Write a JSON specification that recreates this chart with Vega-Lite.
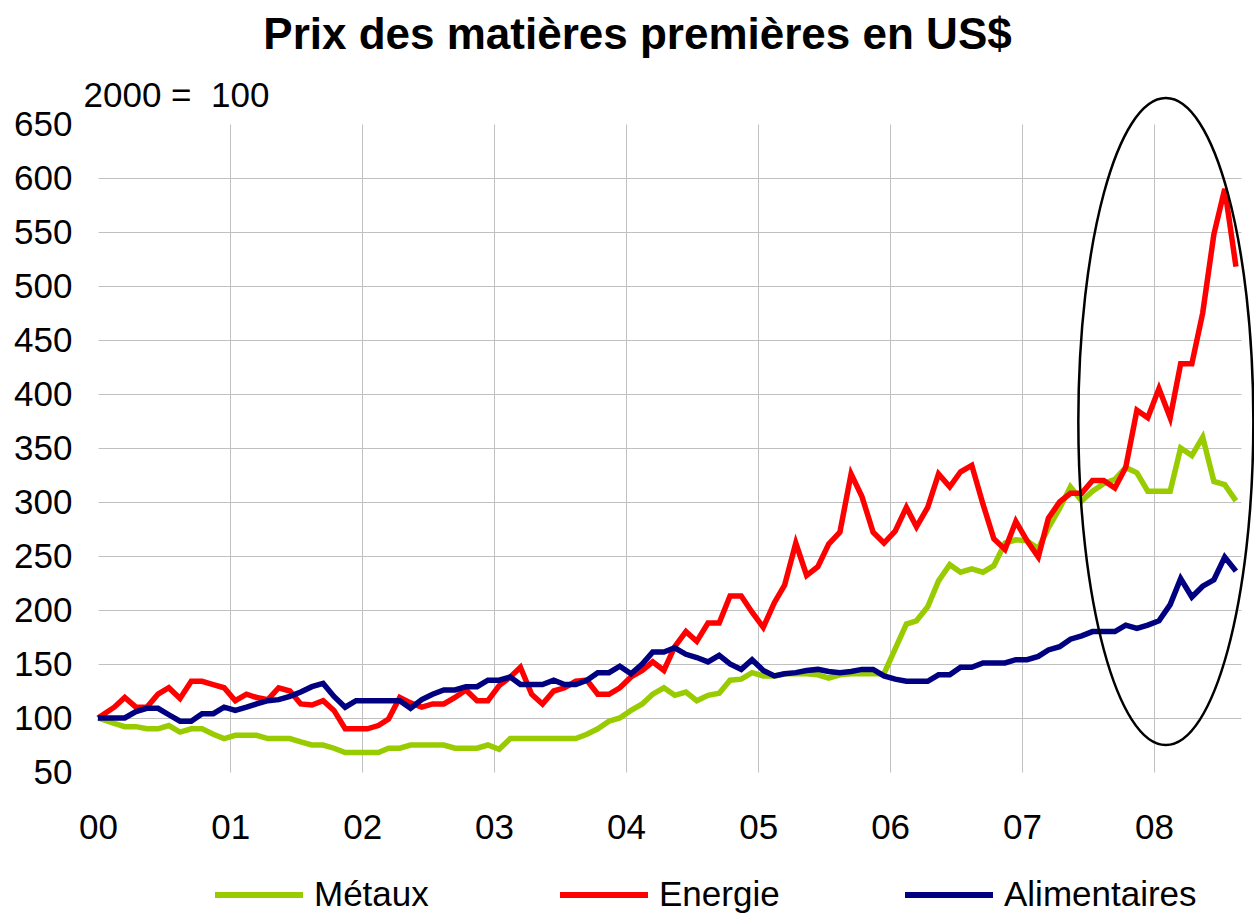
{
  "$schema": "https://vega.github.io/schema/vega-lite/v6.json",
  "width": 1143,
  "height": 648,
  "autosize": {"type": "none"},
  "padding": {"left": 98, "top": 124, "right": 13, "bottom": 143},
  "background": "white",
  "config": {"view": {"stroke": null}, "font": "Liberation Sans"},
  "title": {
    "text": "Prix des matières premières en US$",
    "fontSize": 44,
    "fontWeight": "bold",
    "font": "Liberation Sans",
    "color": "#000000",
    "anchor": "middle",
    "frame": "group",
    "dx": -32,
    "offset": 20
  },
  "layer": [
    {
      "data": {
        "values": [
          {"d": "2000-01-01", "Métaux": 100, "Energie": 100, "Alimentaires": 100},
          {"d": "2000-02-15", "Métaux": 95, "Energie": 110, "Alimentaires": 100},
          {"d": "2000-03-15", "Métaux": 92, "Energie": 119, "Alimentaires": 100},
          {"d": "2000-04-15", "Métaux": 92, "Energie": 110, "Alimentaires": 106},
          {"d": "2000-05-15", "Métaux": 90, "Energie": 110, "Alimentaires": 109},
          {"d": "2000-06-15", "Métaux": 90, "Energie": 122, "Alimentaires": 109},
          {"d": "2000-07-15", "Métaux": 93, "Energie": 128, "Alimentaires": 103},
          {"d": "2000-08-15", "Métaux": 87, "Energie": 118, "Alimentaires": 97},
          {"d": "2000-09-15", "Métaux": 90, "Energie": 134, "Alimentaires": 97},
          {"d": "2000-10-15", "Métaux": 90, "Energie": 134, "Alimentaires": 104},
          {"d": "2000-11-15", "Métaux": 85, "Energie": 131, "Alimentaires": 104},
          {"d": "2000-12-15", "Métaux": 81, "Energie": 128, "Alimentaires": 110},
          {"d": "2001-01-15", "Métaux": 84, "Energie": 116, "Alimentaires": 107},
          {"d": "2001-02-15", "Métaux": 84, "Energie": 122, "Alimentaires": 110},
          {"d": "2001-03-15", "Métaux": 84, "Energie": 119, "Alimentaires": 113},
          {"d": "2001-04-15", "Métaux": 81, "Energie": 117, "Alimentaires": 116},
          {"d": "2001-05-15", "Métaux": 81, "Energie": 128, "Alimentaires": 117},
          {"d": "2001-06-15", "Métaux": 81, "Energie": 125, "Alimentaires": 120},
          {"d": "2001-07-15", "Métaux": 78, "Energie": 113, "Alimentaires": 124},
          {"d": "2001-08-15", "Métaux": 75, "Energie": 112, "Alimentaires": 129},
          {"d": "2001-09-15", "Métaux": 75, "Energie": 116, "Alimentaires": 132},
          {"d": "2001-10-15", "Métaux": 72, "Energie": 107, "Alimentaires": 120},
          {"d": "2001-11-15", "Métaux": 68, "Energie": 90, "Alimentaires": 110},
          {"d": "2001-12-15", "Métaux": 68, "Energie": 90, "Alimentaires": 116},
          {"d": "2002-01-15", "Métaux": 68, "Energie": 90, "Alimentaires": 116},
          {"d": "2002-02-15", "Métaux": 68, "Energie": 93, "Alimentaires": 116},
          {"d": "2002-03-15", "Métaux": 72, "Energie": 99, "Alimentaires": 116},
          {"d": "2002-04-15", "Métaux": 72, "Energie": 119, "Alimentaires": 116},
          {"d": "2002-05-15", "Métaux": 75, "Energie": 114, "Alimentaires": 109},
          {"d": "2002-06-15", "Métaux": 75, "Energie": 110, "Alimentaires": 117},
          {"d": "2002-07-15", "Métaux": 75, "Energie": 113, "Alimentaires": 122},
          {"d": "2002-08-15", "Métaux": 75, "Energie": 113, "Alimentaires": 126},
          {"d": "2002-09-15", "Métaux": 72, "Energie": 119, "Alimentaires": 126},
          {"d": "2002-10-15", "Métaux": 72, "Energie": 126, "Alimentaires": 129},
          {"d": "2002-11-15", "Métaux": 72, "Energie": 116, "Alimentaires": 129},
          {"d": "2002-12-15", "Métaux": 75, "Energie": 116, "Alimentaires": 135},
          {"d": "2003-01-15", "Métaux": 71, "Energie": 130, "Alimentaires": 135},
          {"d": "2003-02-15", "Métaux": 81, "Energie": 138, "Alimentaires": 138},
          {"d": "2003-03-15", "Métaux": 81, "Energie": 147, "Alimentaires": 131},
          {"d": "2003-04-15", "Métaux": 81, "Energie": 122, "Alimentaires": 131},
          {"d": "2003-05-15", "Métaux": 81, "Energie": 113, "Alimentaires": 131},
          {"d": "2003-06-15", "Métaux": 81, "Energie": 125, "Alimentaires": 135},
          {"d": "2003-07-15", "Métaux": 81, "Energie": 128, "Alimentaires": 131},
          {"d": "2003-08-15", "Métaux": 81, "Energie": 134, "Alimentaires": 131},
          {"d": "2003-09-15", "Métaux": 85, "Energie": 135, "Alimentaires": 135},
          {"d": "2003-10-15", "Métaux": 90, "Energie": 122, "Alimentaires": 142},
          {"d": "2003-11-15", "Métaux": 97, "Energie": 122, "Alimentaires": 142},
          {"d": "2003-12-15", "Métaux": 100, "Energie": 128, "Alimentaires": 148},
          {"d": "2004-01-15", "Métaux": 107, "Energie": 138, "Alimentaires": 141},
          {"d": "2004-02-15", "Métaux": 113, "Energie": 144, "Alimentaires": 150},
          {"d": "2004-03-15", "Métaux": 122, "Energie": 152, "Alimentaires": 161},
          {"d": "2004-04-15", "Métaux": 128, "Energie": 144, "Alimentaires": 161},
          {"d": "2004-05-15", "Métaux": 121, "Energie": 166, "Alimentaires": 165},
          {"d": "2004-06-15", "Métaux": 124, "Energie": 180, "Alimentaires": 159},
          {"d": "2004-07-15", "Métaux": 116, "Energie": 171, "Alimentaires": 156},
          {"d": "2004-08-15", "Métaux": 121, "Energie": 188, "Alimentaires": 152},
          {"d": "2004-09-15", "Métaux": 123, "Energie": 188, "Alimentaires": 158},
          {"d": "2004-10-15", "Métaux": 135, "Energie": 213, "Alimentaires": 150},
          {"d": "2004-11-15", "Métaux": 136, "Energie": 213, "Alimentaires": 145},
          {"d": "2004-12-15", "Métaux": 142, "Energie": 198, "Alimentaires": 154},
          {"d": "2005-01-15", "Métaux": 139, "Energie": 184, "Alimentaires": 144},
          {"d": "2005-02-15", "Métaux": 139, "Energie": 207, "Alimentaires": 139},
          {"d": "2005-03-15", "Métaux": 141, "Energie": 223, "Alimentaires": 141},
          {"d": "2005-04-15", "Métaux": 141, "Energie": 262, "Alimentaires": 142},
          {"d": "2005-05-15", "Métaux": 141, "Energie": 232, "Alimentaires": 144},
          {"d": "2005-06-15", "Métaux": 140, "Energie": 240, "Alimentaires": 145},
          {"d": "2005-07-15", "Métaux": 137, "Energie": 261, "Alimentaires": 143},
          {"d": "2005-08-15", "Métaux": 140, "Energie": 272, "Alimentaires": 142},
          {"d": "2005-09-15", "Métaux": 141, "Energie": 326, "Alimentaires": 143},
          {"d": "2005-10-15", "Métaux": 141, "Energie": 305, "Alimentaires": 145},
          {"d": "2005-11-15", "Métaux": 141, "Energie": 272, "Alimentaires": 145},
          {"d": "2005-12-15", "Métaux": 141, "Energie": 262, "Alimentaires": 139},
          {"d": "2006-01-15", "Métaux": 164, "Energie": 273, "Alimentaires": 136},
          {"d": "2006-02-15", "Métaux": 187, "Energie": 295, "Alimentaires": 134},
          {"d": "2006-03-15", "Métaux": 190, "Energie": 277, "Alimentaires": 134},
          {"d": "2006-04-15", "Métaux": 203, "Energie": 295, "Alimentaires": 134},
          {"d": "2006-05-15", "Métaux": 227, "Energie": 326, "Alimentaires": 140},
          {"d": "2006-06-15", "Métaux": 242, "Energie": 314, "Alimentaires": 140},
          {"d": "2006-07-15", "Métaux": 235, "Energie": 328, "Alimentaires": 147},
          {"d": "2006-08-15", "Métaux": 238, "Energie": 334, "Alimentaires": 147},
          {"d": "2006-09-15", "Métaux": 235, "Energie": 298, "Alimentaires": 151},
          {"d": "2006-10-15", "Métaux": 241, "Energie": 266, "Alimentaires": 151},
          {"d": "2006-11-15", "Métaux": 262, "Energie": 256, "Alimentaires": 151},
          {"d": "2006-12-15", "Métaux": 265, "Energie": 282, "Alimentaires": 154},
          {"d": "2007-01-15", "Métaux": 264, "Energie": 264, "Alimentaires": 154},
          {"d": "2007-02-15", "Métaux": 257, "Energie": 249, "Alimentaires": 157},
          {"d": "2007-03-15", "Métaux": 276, "Energie": 285, "Alimentaires": 163},
          {"d": "2007-04-15", "Métaux": 294, "Energie": 300, "Alimentaires": 166},
          {"d": "2007-05-15", "Métaux": 314, "Energie": 308, "Alimentaires": 173},
          {"d": "2007-06-15", "Métaux": 301, "Energie": 308, "Alimentaires": 176},
          {"d": "2007-07-15", "Métaux": 310, "Energie": 320, "Alimentaires": 180},
          {"d": "2007-08-15", "Métaux": 317, "Energie": 320, "Alimentaires": 180},
          {"d": "2007-09-15", "Métaux": 321, "Energie": 313, "Alimentaires": 180},
          {"d": "2007-10-15", "Métaux": 332, "Energie": 332, "Alimentaires": 186},
          {"d": "2007-11-15", "Métaux": 327, "Energie": 385, "Alimentaires": 183},
          {"d": "2007-12-15", "Métaux": 310, "Energie": 378, "Alimentaires": 186},
          {"d": "2008-01-15", "Métaux": 310, "Energie": 405, "Alimentaires": 190},
          {"d": "2008-02-15", "Métaux": 310, "Energie": 378, "Alimentaires": 205},
          {"d": "2008-03-15", "Métaux": 350, "Energie": 428, "Alimentaires": 229},
          {"d": "2008-04-15", "Métaux": 343, "Energie": 428, "Alimentaires": 212},
          {"d": "2008-05-15", "Métaux": 360, "Energie": 475, "Alimentaires": 222},
          {"d": "2008-06-15", "Métaux": 319, "Energie": 548, "Alimentaires": 228},
          {"d": "2008-07-15", "Métaux": 316, "Energie": 590, "Alimentaires": 249},
          {"d": "2008-08-15", "Métaux": 301, "Energie": 518, "Alimentaires": 236}
        ]
      },
      "transform": [{"fold": ["Métaux", "Energie", "Alimentaires"], "as": ["s", "v"]}],
      "mark": {"type": "line", "strokeWidth": 5.5},
      "encoding": {
        "x": {
          "field": "d",
          "type": "temporal",
          "scale": {
            "type": "utc",
            "domain": [
              {"year": 2000, "month": 1, "date": 1, "utc": true},
              {"year": 2008, "month": 8, "date": 29, "utc": true}
            ]
          },
          "axis": {
            "title": null,
            "values": [
              {"year": 2000, "month": 1, "date": 1, "utc": true},
              {"year": 2001, "month": 1, "date": 1, "utc": true},
              {"year": 2002, "month": 1, "date": 1, "utc": true},
              {"year": 2003, "month": 1, "date": 1, "utc": true},
              {"year": 2004, "month": 1, "date": 1, "utc": true},
              {"year": 2005, "month": 1, "date": 1, "utc": true},
              {"year": 2006, "month": 1, "date": 1, "utc": true},
              {"year": 2007, "month": 1, "date": 1, "utc": true},
              {"year": 2008, "month": 1, "date": 1, "utc": true}
            ],
            "labelExpr": "utcFormat(datum.value, '%y')",
            "labelFontSize": 35,
            "labelFont": "Liberation Sans",
            "labelColor": "#000000",
            "labelPadding": 38,
            "labelDx": 4,
            "labelFlush": false,
            "labelOverlap": false,
            "ticks": false,
            "tickSize": 0,
            "domain": false,
            "grid": true,
            "gridColor": "#c0c0c0",
            "gridWidth": 1,
            "gridOpacity": {"condition": {"test": "utcyear(datum.value) == 2000", "value": 0}, "value": 1}
          }
        },
        "y": {
          "field": "v",
          "type": "quantitative",
          "scale": {"domain": [50, 650], "nice": false, "zero": false},
          "axis": {
            "title": "2000 =\u00a0 100",
            "titleAngle": 0,
            "titleAlign": "left",
            "titleBaseline": "alphabetic",
            "titleX": -15,
            "titleY": -18,
            "titleFontSize": 35,
            "titleFontWeight": "normal",
            "titleFont": "Liberation Sans",
            "titleColor": "#000000",
            "values": [50, 100, 150, 200, 250, 300, 350, 400, 450, 500, 550, 600, 650],
            "labelFontSize": 35,
            "labelFont": "Liberation Sans",
            "labelColor": "#000000",
            "labelPadding": 26,
            "labelFlush": false,
            "labelOverlap": false,
            "ticks": false,
            "tickSize": 0,
            "domain": false,
            "grid": true,
            "gridColor": "#c0c0c0",
            "gridWidth": 1,
            "gridOpacity": {"condition": {"test": "datum.value == 50 || datum.value == 650", "value": 0}, "value": 1}
          }
        },
        "color": {
          "field": "s",
          "type": "nominal",
          "scale": {
            "domain": ["Métaux", "Energie", "Alimentaires"],
            "range": ["#99cc00", "#ff0000", "#000080"]
          },
          "legend": {
            "title": null,
            "orient": "none",
            "legendX": 114,
            "legendY": 724,
            "direction": "horizontal",
            "columns": 3,
            "symbolType": "stroke",
            "symbolSize": 7744,
            "symbolStrokeWidth": 6,
            "labelFontSize": 35,
            "labelFont": "Liberation Sans",
            "labelColor": "#000000",
            "labelOffset": 8,
            "labelLimit": 400,
            "columnPadding": 41,
            "gridAlign": "all",
            "padding": 0
          }
        }
      }
    },
    {
      "data": {"values": [{"d": "2008-02-03", "v": 374.5}]},
      "mark": {
        "type": "point",
        "shape": "M -0.2705 0 A 0.2705 1 0 1 0 0.2705 0 A 0.2705 1 0 1 0 -0.2705 0 Z",
        "size": 418609,
        "filled": false,
        "color": "#000000",
        "stroke": "#000000",
        "strokeWidth": 2.5,
        "opacity": 1
      },
      "encoding": {
        "x": {"field": "d", "type": "temporal"},
        "y": {"field": "v", "type": "quantitative"}
      }
    }
  ]
}
